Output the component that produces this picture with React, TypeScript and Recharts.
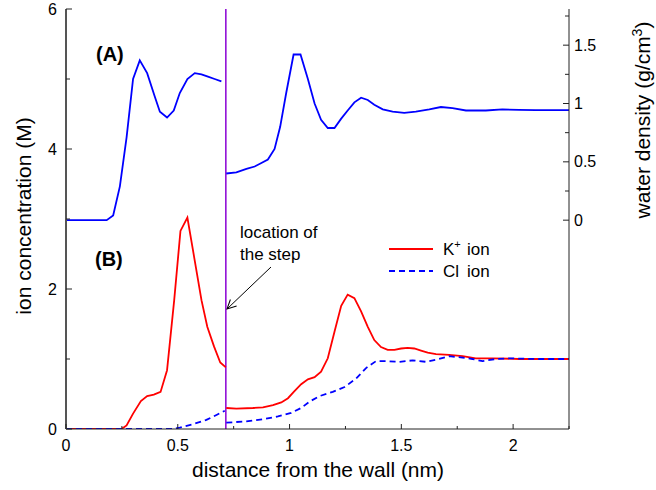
import React from 'react';
import { LineChart, Line, XAxis, YAxis, ReferenceLine } from 'recharts';

const FONT = '"Liberation Sans", Arial, Helvetica, sans-serif';

// water density (g/cm3), left of the step and right of it
const waterNearX = [0, 0.182, 0.211, 0.241, 0.271, 0.3, 0.33, 0.363, 0.397, 0.42, 0.452, 0.482, 0.509, 0.543, 0.576, 0.606, 0.635, 0.665, 0.695];
const waterNear = [0, 0, 0.04, 0.29, 0.71, 1.21, 1.37, 1.26, 1.06, 0.93, 0.88, 0.94, 1.09, 1.21, 1.26, 1.25, 1.23, 1.21, 1.19];
const waterFarX = [0.717, 0.762, 0.807, 0.844, 0.874, 0.903, 0.933, 0.958, 0.985, 1.018, 1.049, 1.082, 1.112, 1.141, 1.171, 1.201, 1.231, 1.26, 1.29, 1.32, 1.35, 1.379, 1.417, 1.461, 1.513, 1.565, 1.625, 1.677, 1.729, 1.789, 1.826, 1.878, 1.952, 2.026, 2.1, 2.174, 2.25];
const waterFar = [0.4, 0.41, 0.44, 0.46, 0.49, 0.52, 0.61, 0.8, 1.09, 1.42, 1.42, 1.21, 1.0, 0.86, 0.79, 0.79, 0.87, 0.94, 1.01, 1.05, 1.03, 0.99, 0.95, 0.93, 0.92, 0.93, 0.95, 0.97, 0.96, 0.94, 0.94, 0.94, 0.95, 0.945, 0.943, 0.943, 0.943];

// K+ ion concentration (M)
const kNearX = [0, 0.248, 0.271, 0.3, 0.335, 0.363, 0.393, 0.423, 0.452, 0.484, 0.512, 0.543, 0.573, 0.606, 0.632, 0.662, 0.69, 0.715];
const kNear = [0, 0, 0.05, 0.22, 0.4, 0.47, 0.49, 0.53, 0.84, 1.84, 2.83, 3.02, 2.46, 1.84, 1.46, 1.18, 0.95, 0.88];
const kFarX = [0.717, 0.762, 0.836, 0.881, 0.926, 0.963, 0.993, 1.022, 1.052, 1.082, 1.112, 1.141, 1.171, 1.201, 1.231, 1.26, 1.29, 1.32, 1.35, 1.379, 1.409, 1.439, 1.469, 1.499, 1.528, 1.558, 1.588, 1.618, 1.655, 1.714, 1.774, 1.833, 1.907, 2.026, 2.174, 2.25];
const kFar = [0.3, 0.29, 0.3, 0.31, 0.34, 0.38, 0.44, 0.54, 0.64, 0.71, 0.74, 0.82, 1.01, 1.39, 1.76, 1.92, 1.87, 1.68, 1.46, 1.27, 1.17, 1.13, 1.13, 1.15, 1.16, 1.15, 1.12, 1.09, 1.07, 1.06, 1.04, 1.01, 1.01, 1.0, 1.0, 1.0];

// Cl- ion concentration (M)
const clNearX = [0, 0.479, 0.509, 0.568, 0.628, 0.673, 0.71];
const clNear = [0, 0, 0.02, 0.07, 0.13, 0.2, 0.26];
const clFarX = [0.717, 0.807, 0.881, 0.948, 1.007, 1.052, 1.089, 1.134, 1.193, 1.246, 1.298, 1.342, 1.387, 1.432, 1.491, 1.551, 1.61, 1.655, 1.714, 1.774, 1.818, 1.863, 1.923, 1.982, 2.1, 2.25];
const clFar = [0.09, 0.11, 0.14, 0.18, 0.23, 0.3, 0.39, 0.47, 0.53, 0.6, 0.72, 0.87, 0.97, 0.97, 0.96, 0.98, 0.96, 0.99, 1.04, 1.02, 1.0, 0.97, 1.0, 1.01, 1.0, 1.0];

const stepX = 0.715;
const xTicks = [0, 0.25, 0.5, 0.75, 1, 1.25, 1.5, 1.75, 2, 2.25];
const ionTicks = [0, 1, 2, 3, 4, 5, 6];
const waterTicks = [0, 0.25, 0.5, 0.75, 1, 1.25, 1.5, 1.75];

const toPoints = (xs: number[], ys: number[]) => xs.map((x, i) => ({ x, y: ys[i] }));

const isMult = (v: number, step: number) => Math.abs(v / step - Math.round(v / step)) < 1e-6;

const BottomTick = ({ x, y, payload }: any) => {
  const major = isMult(payload.value, 0.5);
  return (
    <g>
      <line x1={x} x2={x} y1={y} y2={y - (major ? 5 : 3)} stroke="#222" />
      {major && (
        <text x={x} y={y + 22} textAnchor="middle" fontSize={16} fill="#000">
          {payload.value}
        </text>
      )}
    </g>
  );
};

const TopTick = ({ x, y, payload }: any) => {
  const major = isMult(payload.value, 0.5);
  return <line x1={x} x2={x} y1={y} y2={y + (major ? 5 : 3)} stroke="#222" />;
};

const LeftTick = ({ x, y, payload }: any) => {
  const major = isMult(payload.value, 2);
  return (
    <g>
      <line x1={x} x2={x + (major ? 6 : 4)} y1={y} y2={y} stroke="#222" />
      {major && (
        <text x={x - 9} y={y + 5.5} textAnchor="end" fontSize={16} fill="#000">
          {payload.value}
        </text>
      )}
    </g>
  );
};

const RightTick = ({ x, y, payload }: any) => {
  const major = isMult(payload.value, 0.5);
  return (
    <g>
      <line x1={x} x2={x - (major ? 6 : 4)} y1={y} y2={y} stroke="#222" />
      {major && (
        <text x={x + 5} y={y + 5.5} textAnchor="start" fontSize={16} fill="#000">
          {payload.value}
        </text>
      )}
    </g>
  );
};

export default function App() {
  return (
    <div style={{ position: 'absolute', left: 0, top: 0, width: 656, height: 490, background: '#fff', fontFamily: FONT }}>
      <LineChart width={656} height={490} margin={{ top: 9, right: 0, bottom: 0, left: 0 }}>
        <XAxis
          xAxisId="b"
          dataKey="x"
          type="number"
          domain={[0, 2.25]}
          allowDataOverflow
          ticks={xTicks}
          interval={0}
          tickSize={0}
          tickMargin={0}
          tick={(p: any) => <BottomTick {...p} />}
          axisLine={{ stroke: '#222' }}
          tickLine={false}
          height={61}
        />
        <XAxis
          xAxisId="t"
          orientation="top"
          dataKey="x"
          type="number"
          domain={[0, 2.25]}
          allowDataOverflow
          ticks={xTicks}
          interval={0}
          tickSize={0}
          tickMargin={0}
          tick={(p: any) => <TopTick {...p} />}
          axisLine={{ stroke: '#222' }}
          tickLine={false}
          height={0}
        />
        <YAxis
          yAxisId="ion"
          type="number"
          domain={[0, 6]}
          allowDataOverflow
          ticks={ionTicks}
          interval={0}
          tickSize={0}
          tickMargin={0}
          tick={(p: any) => <LeftTick {...p} />}
          axisLine={{ stroke: '#555', strokeWidth: 2 }}
          tickLine={false}
          width={66}
        />
        <YAxis
          yAxisId="water"
          orientation="right"
          type="number"
          domain={[-1.79, 1.81]}
          allowDataOverflow
          ticks={waterTicks}
          interval={0}
          tickSize={0}
          tickMargin={0}
          tick={(p: any) => <RightTick {...p} />}
          axisLine={{ stroke: '#222' }}
          tickLine={false}
          width={87}
        />
        <ReferenceLine xAxisId="b" yAxisId="ion" x={stepX} stroke="#8a00d4" strokeWidth={1.5} />

        <Line xAxisId="b" yAxisId="water" data={toPoints(waterNearX, waterNear)} dataKey="y" type="linear" stroke="#0000ff" strokeWidth={1.8} dot={false} isAnimationActive={false} />
        <Line xAxisId="b" yAxisId="water" data={toPoints(waterFarX, waterFar)} dataKey="y" type="linear" stroke="#0000ff" strokeWidth={1.8} dot={false} isAnimationActive={false} />
        <Line xAxisId="b" yAxisId="ion" data={toPoints(kNearX, kNear)} dataKey="y" type="linear" stroke="#ff0000" strokeWidth={1.8} dot={false} isAnimationActive={false} />
        <Line xAxisId="b" yAxisId="ion" data={toPoints(kFarX, kFar)} dataKey="y" type="linear" stroke="#ff0000" strokeWidth={1.8} dot={false} isAnimationActive={false} />
        <Line xAxisId="b" yAxisId="ion" data={toPoints(clNearX, clNear)} dataKey="y" type="linear" stroke="#0000ff" strokeWidth={1.8} strokeDasharray="6 4" dot={false} isAnimationActive={false} />
        <Line xAxisId="b" yAxisId="ion" data={toPoints(clFarX, clFar)} dataKey="y" type="linear" stroke="#0000ff" strokeWidth={1.8} strokeDasharray="6 4" dot={false} isAnimationActive={false} />
      </LineChart>

      <svg width={656} height={490} style={{ position: 'absolute', left: 0, top: 0, pointerEvents: 'none' }}>
        <defs>
          <marker id="arrowHead" markerWidth={12} markerHeight={12} refX={10} refY={6} orient="auto" markerUnits="userSpaceOnUse">
            <path d="M1,1.5 L10,6 L1,10.5" fill="none" stroke="#000" strokeWidth={1} />
          </marker>
        </defs>
        <text x={96} y={61} fontSize={20} fontWeight="bold" fill="#000">(A)</text>
        <text x={95} y={266} fontSize={20} fontWeight="bold" fill="#000">(B)</text>

        <text x={240} y={238} fontSize={17} fill="#000">location of</text>
        <text x={240} y={260} fontSize={17} fill="#000">the step</text>
        <line x1={271} y1={267} x2={227} y2={309} stroke="#000" strokeWidth={1} markerEnd="url(#arrowHead)" />

        <line x1={389} x2={433} y1={249} y2={249} stroke="#ff0000" strokeWidth={1.8} />
        <text x={443} y={255} fontSize={17} fill="#000">
          K<tspan dy={-7} fontSize={11}>+</tspan>
          <tspan x={467} dy={7}>ion</tspan>
        </text>
        <line x1={389} x2={433} y1={271} y2={271} stroke="#0000ff" strokeWidth={1.8} strokeDasharray="6 4" />
        <text x={443} y={277} fontSize={17} fill="#000">
          Cl<tspan x={467}>ion</tspan>
        </text>

        <text transform="translate(31,216) rotate(-90)" textAnchor="middle" fontSize={21} fill="#000">ion concentration (M)</text>
        <text transform="translate(650,120) rotate(-90)" textAnchor="middle" fontSize={21} fill="#000">
          water density (g/cm<tspan dy={-8} fontSize={14}>3</tspan><tspan dy={8}>)</tspan>
        </text>
        <text x={318} y={477} textAnchor="middle" fontSize={21} fill="#000">distance from the wall (nm)</text>
      </svg>
    </div>
  );
}
